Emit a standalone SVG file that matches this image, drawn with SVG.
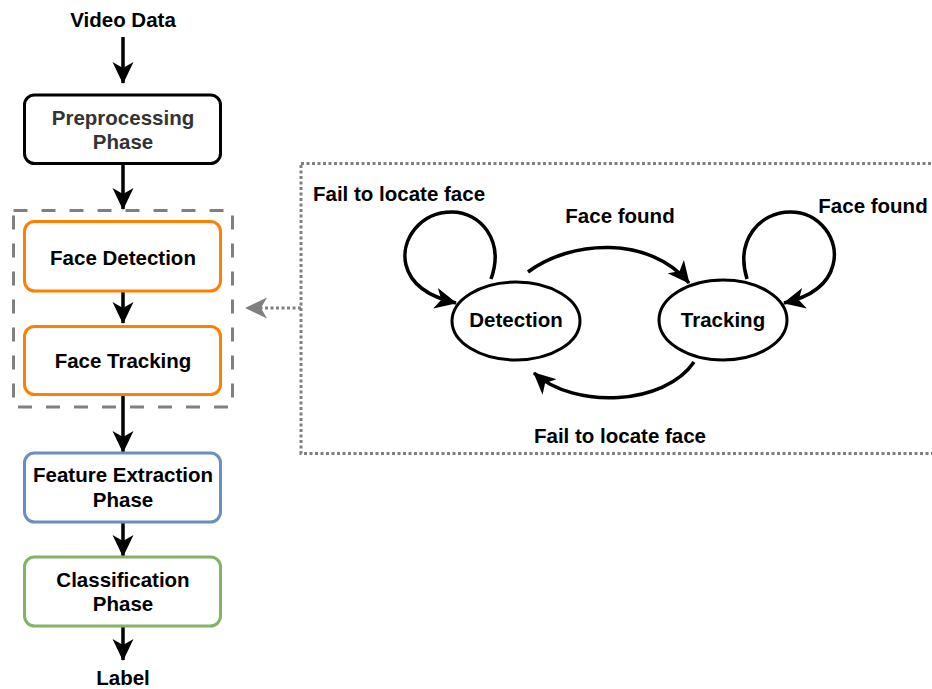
<svg xmlns="http://www.w3.org/2000/svg" width="932" height="689" viewBox="0 0 932 689">
  <style>
    text { font-family: "Liberation Sans", Arial, Helvetica, sans-serif; font-weight: bold; font-size: 20.5px; fill: #000; }
    .c { text-anchor: middle; }
    .box { fill: #fff; stroke-width: 3; }
    .black { stroke: #000; }
    .orange { stroke: #ff8000; }
    .blue { stroke: #6c8ebf; }
    .green { stroke: #82b366; }
    .state { fill: #fff; stroke: #000; stroke-width: 3; }
    .edge { fill: none; stroke: #000; stroke-width: 3.5; marker-end: url(#arrow); }
    .flow { fill: none; stroke: #000; stroke-width: 3.5; marker-end: url(#arrow); }
  </style>
  <defs>
    <marker id="arrow" markerUnits="userSpaceOnUse" viewBox="0 0 22 22" refX="21" refY="11" markerWidth="22" markerHeight="22" orient="auto">
      <path d="M22 11 L0 0.5 L6 11 L0 21.5 Z" fill="#000"/>
    </marker>
    <marker id="arrowGray" markerUnits="userSpaceOnUse" viewBox="0 0 22 22" refX="21" refY="11" markerWidth="22" markerHeight="22" orient="auto">
      <path d="M22 11 L0 0.5 L6 11 L0 21.5 Z" fill="#808080"/>
    </marker>
  </defs>

  <!-- group frame around the detection/tracking stage -->
  <rect id="stage-frame" x="13.5" y="210.5" width="219" height="196.5" fill="none" stroke="#808080" stroke-width="3" stroke-dasharray="14 14"/>

  <!-- detail panel for the detection/tracking state machine -->
  <rect id="state-panel" x="301" y="163.5" width="650" height="290" fill="none" stroke="#808080" stroke-width="3" stroke-dasharray="3 2.5"/>

  <g id="connectors">
    <line class="flow" x1="123" y1="37" x2="123" y2="83"/>
    <line class="flow" x1="123" y1="165" x2="123" y2="209"/>
    <line class="flow" x1="123" y1="292" x2="123" y2="323"/>
    <line class="flow" x1="123" y1="396" x2="123" y2="452"/>
    <line class="flow" x1="123" y1="522" x2="123" y2="556"/>
    <line class="flow" x1="123" y1="627" x2="123" y2="660"/>
    <line x1="301" y1="308" x2="246" y2="308" fill="none" stroke="#808080" stroke-width="3" stroke-dasharray="3 2.5" marker-end="url(#arrowGray)"/>

    <path id="loop-detection" class="edge" d="M491 279 C505 240 480 212 452 212 C420 212 400 240 406 265 C411 285 430 297 456 303"/>
    <path id="loop-tracking" class="edge" d="M747 279 C735 240 760 212 790 212 C820 212 840 240 833 265 C828 285 810 297 784 303"/>
    <path id="detect-to-track" class="edge" d="M528 272 C570 240 650 235 689 283"/>
    <path id="track-to-detect" class="edge" d="M694 362 C665 405 575 410 534 373"/>
  </g>

  <g id="video-data">
    <text class="c" x="123" y="27">Video Data</text>
  </g>

  <g id="preprocessing">
    <rect class="box black" x="24.5" y="95" width="196" height="68.5" rx="10"/>
    <text class="c" x="123" y="125" style="fill:#333">Preprocessing</text>
    <text class="c" x="123" y="149" style="fill:#333">Phase</text>
  </g>

  <g id="face-detection">
    <rect class="box orange" x="24.5" y="221.5" width="196" height="69.5" rx="10"/>
    <text class="c" x="123" y="265">Face Detection</text>
  </g>

  <g id="face-tracking">
    <rect class="box orange" x="24.5" y="326.5" width="196" height="68" rx="10"/>
    <text class="c" x="123" y="368">Face Tracking</text>
  </g>

  <g id="feature-extraction">
    <rect class="box blue" x="24.5" y="453" width="196" height="69" rx="10"/>
    <text class="c" x="123" y="482">Feature Extraction</text>
    <text class="c" x="123" y="507">Phase</text>
  </g>

  <g id="classification">
    <rect class="box green" x="24.5" y="557" width="196" height="69" rx="10"/>
    <text class="c" x="123" y="587">Classification</text>
    <text class="c" x="123" y="611">Phase</text>
  </g>

  <g id="label">
    <text class="c" x="123" y="685">Label</text>
  </g>

  <g id="state-detection">
    <ellipse class="state" cx="516" cy="321" rx="64" ry="39"/>
    <text class="c" x="516" y="327">Detection</text>
  </g>

  <g id="state-tracking">
    <ellipse class="state" cx="723" cy="320" rx="64" ry="40"/>
    <text class="c" x="723" y="327">Tracking</text>
  </g>

  <g id="edge-labels">
    <text x="313" y="201">Fail to locate face</text>
    <text class="c" x="620" y="223">Face found</text>
    <text class="c" x="873" y="213">Face found</text>
    <text class="c" x="620" y="443">Fail to locate face</text>
  </g>
</svg>
